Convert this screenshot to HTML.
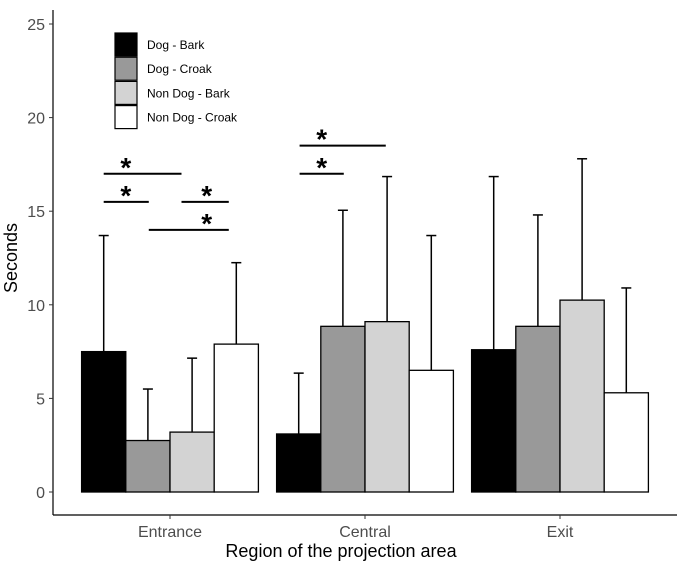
<!DOCTYPE html>
<html><head><meta charset="utf-8"><style>
body{margin:0;background:#fff}
svg text{font-family:"Liberation Sans",Arial,sans-serif}
</style></head><body>
<svg id="chart" width="677" height="565" xmlns="http://www.w3.org/2000/svg"></svg>
<script>
const categories=["Entrance","Central","Exit"];
const seriesNames=["Dog - Bark","Dog - Croak","Non Dog - Bark","Non Dog - Croak"];
const seriesFill=["#000000","#999999","#d3d3d3","#ffffff"];
const dogBark=[7.5,3.1,7.6];
const dogCroak=[2.75,8.85,8.85];
const nonDogBark=[3.2,9.1,10.25];
const nonDogCroak=[7.9,6.5,5.3];
const errDogBark=[13.7,6.35,16.85];
const errDogCroak=[5.5,15.05,14.8];
const errNonDogBark=[7.15,16.85,17.8];
const errNonDogCroak=[12.25,13.7,10.9];
const yTicks=[0,5,10,15,20,25];
// significance: [category, start (bar units), end (bar units), star pos (bar units), level]
const sigPairs=[[0,0.5,2.26,1.0,17],[0,0.5,1.52,1.0,15.5],[0,2.26,3.33,2.83,15.5],[0,1.52,3.33,2.83,14],[1,0.52,2.47,1.02,18.5],[1,0.52,1.52,1.02,17]];

const svg=document.getElementById('chart');
const NS="http://www.w3.org/2000/svg";
function el(t,a,p){const e=document.createElementNS(NS,t);for(const k in a)e.setAttribute(k,a[k]);(p||svg).appendChild(e);return e;}
const y=v=>492-v*18.72;
const center=i=>170+i*195;
const bw=44.2;
const barX=(c,s)=>center(c)-2*bw+s*bw;
const vals=[dogBark,dogCroak,nonDogBark,nonDogCroak];
const errs=[errDogBark,errDogCroak,errNonDogBark,errNonDogCroak];

let a=el('line',{x1:53,y1:10,x2:53,y2:515,stroke:'#000','stroke-width':1.2});

a=el('line',{x1:53,y1:515,x2:677,y2:515,stroke:'#000','stroke-width':1.2});

yTicks.forEach(t=>{
  el('line',{x1:49,y1:y(t),x2:53,y2:y(t),stroke:'#333'});
  const tx=el('text',{x:45,y:y(t)+6,'text-anchor':'end','font-size':16,fill:'#4d4d4d'});
  tx.textContent=t;
  
});
categories.forEach((c,i)=>{
  el('line',{x1:center(i),y1:515,x2:center(i),y2:519,stroke:'#333'});
  const tx=el('text',{x:center(i),y:537,'text-anchor':'middle','font-size':16,fill:'#4d4d4d'});
  tx.textContent=c;
  
});
let t=el('text',{x:341,y:557,'text-anchor':'middle','font-size':18,fill:'#000'});
t.textContent="Region of the projection area";

t=el('text',{x:0,y:0,'text-anchor':'middle','font-size':18,fill:'#000',transform:'translate(17,258) rotate(-90)'});
t.textContent="Seconds";


for(let s=0;s<4;s++)for(let c=0;c<3;c++){
  const cx=barX(c,s)+bw/2;
  const e=el('line',{x1:cx,y1:y(vals[s][c]),x2:cx,y2:y(errs[s][c]),stroke:'#000','stroke-width':1.5});
  
  el('line',{x1:cx-5,y1:y(errs[s][c]),x2:cx+5,y2:y(errs[s][c]),stroke:'#000','stroke-width':1.5});
  const r=el('rect',{x:barX(c,s),y:y(vals[s][c]),width:bw,height:y(0)-y(vals[s][c]),fill:seriesFill[s],stroke:'#000','stroke-width':1.3});
  
}
sigPairs.forEach(p=>{
  const x0=barX(p[0],0);
  const x1=x0+p[1]*bw,x2=x0+p[2]*bw,xs=x0+p[3]*bw,yy=y(p[4]);
  const l=el('line',{x1:x1,y1:yy,x2:x2,y2:yy,stroke:'#000','stroke-width':2});
  
  const s=el('text',{x:xs,y:yy+3,'text-anchor':'middle','font-size':28,'font-weight':'bold'});
  s.textContent='*';
  
});
seriesNames.forEach((n,i)=>{
  const g=el('g',{});
  
  el('rect',{x:115,y:33+i*24.2,width:22,height:23,fill:seriesFill[i],stroke:'#000','stroke-width':1.2},g);
  const tx=el('text',{x:147,y:49+i*24.2,'font-size':12,fill:'#000'},g);
  tx.textContent=n;
});
</script>
</body></html>
